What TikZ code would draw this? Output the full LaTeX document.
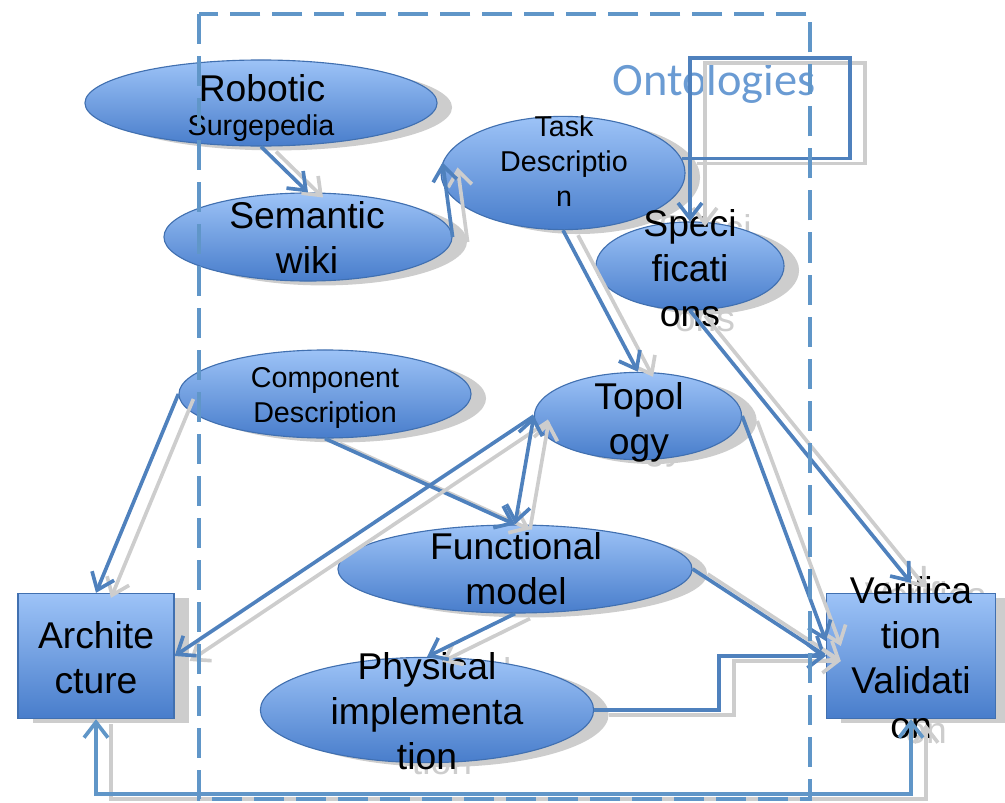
\documentclass[tikz,border=0pt]{standalone}
\usepackage{fontspec}
\setmainfont{Liberation Sans}
\newfontfamily\ontofont{Carlito}
\usetikzlibrary{shapes.geometric,shadows,arrows.meta}
\definecolor{nodetop}{RGB}{157,195,247}
\definecolor{nodebot}{RGB}{72,125,203}
\definecolor{nodeline}{RGB}{65,112,176}
\definecolor{linkblue}{RGB}{79,129,189}
\definecolor{ontoblue}{RGB}{96,150,200}
\definecolor{ontotext}{RGB}{106,155,211}
\definecolor{shadowgray}{RGB}{205,205,205}
\pgfdeclarelayer{ghost}
\pgfsetlayers{ghost,main}
\newcommand{\bigtxt}{\fontsize{26.5}{32}\selectfont}
\newcommand{\smalltxt}{\fontsize{20.4}{25}\selectfont}
% text with its grey shadow copy
\newcommand{\lbl}[4]{%
  \begin{pgfonlayer}{ghost}
    \node[align=center, font=#3, text=shadowgray] at ([shift={(15,5)}]#2) {#4};
  \end{pgfonlayer}
  \node[align=center, font=#3] (#1) at (#2) {#4};
}
\begin{document}
\begin{tikzpicture}[x=0.025cm, y=-0.025cm,
    >={Straight Barb[length=11pt,width=17pt]},
    shape3d/.style={draw=nodeline, line width=0.8pt, top color=nodetop, bottom color=nodebot,
      drop shadow={shadow xshift=0.375cm, shadow yshift=-0.11cm, fill=shadowgray, opacity=1}},
    bubble/.style={ellipse, shape3d, inner sep=0pt},
    block/.style={rectangle, shape3d, inner sep=0pt},
    link/.style={draw=linkblue, line width=2.6pt, ->,
      preaction={draw=shadowgray, line width=2.6pt, ->, transform canvas={shift={(0.375cm,-0.125cm)}}}}]
  \useasboundingbox (0,0) rectangle (1005,802);

  % shapes
  \node[bubble, minimum width=8.8cm, minimum height=2.15cm] (rs) at (261,103) {};
  \node[bubble, minimum width=7.2cm, minimum height=2.2cm] (sw) at (308,237) {};
  \node[bubble, minimum width=6.1cm, minimum height=2.83cm] (td) at (563,173) {};
  \node[bubble, minimum width=4.7cm, minimum height=2.2cm] (sp) at (690,266) {};
  \node[bubble, minimum width=7.3cm, minimum height=2.2cm] (cd) at (325,394) {};
  \node[bubble, minimum width=5.18cm, minimum height=2.18cm] (tp) at (638,416) {};
  \node[bubble, minimum width=8.85cm, minimum height=2.2cm] (fm) at (515,569) {};
  \node[bubble, minimum width=8.33cm, minimum height=2.63cm] (pi) at (427,710) {};
  \node[block, minimum width=3.9cm, minimum height=3.13cm] (ar) at (96,656) {};
  \node[block, minimum width=4.23cm, minimum height=3.13cm] (vv) at (911,656) {};

  \lbl{rs-a}{262,88}{\bigtxt}{Robotic}
  \lbl{rs-b}{261,128}{\smalltxt}{Surgepedia}
  \lbl{sw-t}{307,237}{\bigtxt}{Semantic\\wiki}
  \lbl{td-t}{564,161}{\smalltxt}{Task\\Descriptio\\n}
  \lbl{sp-t}{690,268}{\bigtxt}{Speci\\ficati\\ons}
  \lbl{cd-t}{325,398}{\smalltxt}{Component\\Description}
  \lbl{tp-t}{639,422}{\bigtxt}{Topol\\ogy}
  \lbl{fm-t}{516,569}{\bigtxt}{Functional\\model}
  \lbl{pi-t}{427,711}{\bigtxt}{Physical\\implementa\\tion}
  \lbl{ar-t}{96,658}{\bigtxt}{Archite\\cture}
  \lbl{vv-t}{911,658}{\bigtxt}{Verifica\\tion\\Validati\\on}

  \node[font=\ontofont\fontsize{33}{40}\selectfont, text=ontotext] (onto) at (714,83) {Ontologies};

  % connectors
  \coordinate (bend) at (850,58);
  \draw[link] (rs.south) -- (sw.north);
  \draw[link] (sw.east) -- (td.175);
  \draw[link] (td.7) -| (bend) -| (sp.north);
  \draw[link] (td.south) -- (tp.north);
  \draw[link] (sp.south) -- ([yshift=0.25cm]vv.north);
  \draw[link] (cd.west) -- (ar.north);
  \draw[link] (cd.south) -- (fm.north);
  \draw[link] (tp.west) -- (ar.east);
  \draw[link, <->] (fm.north) -- (tp.west);
  \draw[link] (fm.south) -- (pi.north);
  \draw[link] (fm.east) -- (vv.west);
  \draw[link] (tp.east) -- (vv.170);
  \draw[link] (pi.east) -- ++(125,0) |- (vv.west);
  \draw[link, <->, draw=ontoblue] (ar.south) -- ++(0,75) -| (vv.south);

  % ontology frame
  \draw[ontoblue, line width=3.5pt, dash pattern=on 0.75cm off 0.3cm] (199,14) rectangle (810,799);
\end{tikzpicture}
\end{document}
